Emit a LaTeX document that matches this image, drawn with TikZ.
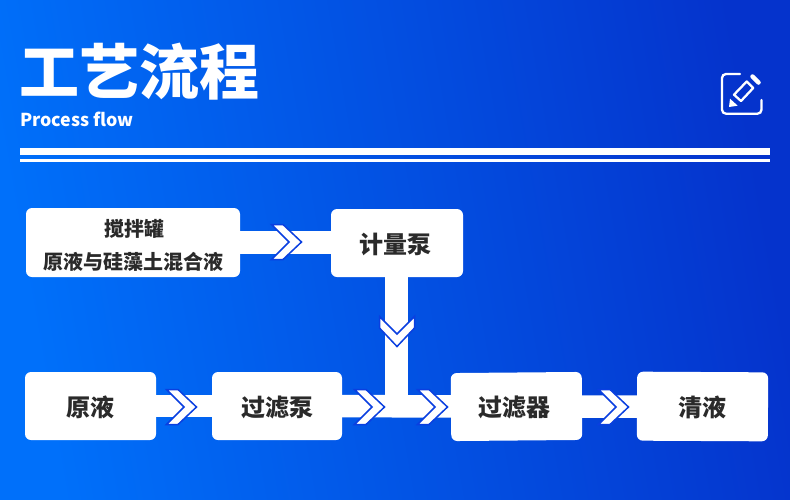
\documentclass[tikz,border=0pt]{standalone}
\usepackage{fontspec}
\setmainfont{Noto Sans CJK SC}
\usetikzlibrary{calc}
\definecolor{bgleft}{HTML}{0070FA}
\definecolor{bgright}{HTML}{0533CC}
\definecolor{chevblue}{HTML}{0A3FE0}
\definecolor{inktext}{HTML}{2A2A2A}
\tikzset{
  procbox/.style={fill=white,rounded corners=6pt,minimum width=131pt,minimum height=68pt,
    inner sep=0pt,text=inktext,text height=20.2pt,text depth=0pt,font=\fontsize{24pt}{28pt}\selectfont\bfseries},
  flowline/.style={draw=white,line width=22.5pt},
  chevron/.pic={
    \draw[fill=white,draw=chevblue,line width=1.5pt,line join=miter]
      (-31,-17.5) -- (-19.5,-17.5) -- (-1,0) -- (-19.5,17.5) -- (-31,17.5) -- (-13.5,0) -- cycle;
  }
}
\begin{document}
\begin{tikzpicture}[x=1pt,y=-1pt]
  \useasboundingbox (0,0) rectangle (790,499);
  % Background with gradient
  \shade[left color=bgleft,right color=bgright,shading angle=100] (0,0) rectangle (790,499);
  % Title
  \node[anchor=west,inner sep=0pt,text=white,font=\fontsize{60pt}{62pt}\selectfont\bfseries] (title) at (19,72) {工艺流程};
  \node[anchor=west,inner sep=0pt,text=white,font=\fontsize{17.8pt}{20pt}\selectfont\bfseries] (subtitle) at (20,119) {Process flow};
  % Double rule
  \fill[white] (20,148) rectangle (770,155);
  \fill[white] (20,159) rectangle (770,162);
  % Edit icon
  \draw[white,line width=2.3pt,line cap=round,rounded corners=4pt]
    (740,74) -- (722,74) -- (722,113.7) -- (761.5,113.7) -- (761.5,100);
  \draw[white,line width=2.3pt,line join=round]
    (734,94.7) -- (746.7,81.5) -- (753.2,88) -- (741,101) -- cycle;
  \fill[white] (729,107) -- (730,98.7) -- (737.7,105.7) -- cycle;
  \draw[white,line width=4.5pt,line cap=round] (752.5,76.5) -- (758.5,82.5);
  % Boxes
  \node[procbox,minimum width=214pt,minimum height=69pt,align=center,text height={},text depth={},font=\fontsize{20pt}{33pt}\selectfont\bfseries]
    (stir) at (133,242.5) {\rule{0pt}{23pt}\hspace*{2pt}搅拌罐\\原液与硅藻土混合液};
  \node[procbox,minimum width=132pt] (meter) at (397,243) {\hspace*{-3pt}计量泵};
  \node[procbox] (raw) at (90.5,406) {原液};
  \node[procbox,minimum width=130pt] (fpump) at (277,406) {过滤泵};
  \node[procbox,rotate=0.5] (filter) at (516.5,406.5) {\hspace*{-4pt}过滤器};
  \node[procbox,minimum height=69pt,rotate=-0.3] (clear) at (702.5,406.5) {清液};
  % Junction on the lower line
  \coordinate (joint) at ([xshift=-0.6pt]meter |- fpump);
  % Connectors
  \draw[flowline] (stir.east |- 0,242.5) -- (meter.west |- 0,242.5);
  \draw[flowline] ([xshift=-0.6pt]meter.south) -- (joint);
  \draw[flowline] (raw) -- (fpump);
  \draw[flowline] (fpump) -- (filter);
  \draw[flowline] (filter) -- (clear);
  % Chevrons
  \pic at (302.5,242) {chevron};
  \pic[rotate=-90] at (397,347.5) {chevron};
  \pic at (197.5,407) {chevron};
  \pic at (385.5,407) {chevron};
  \pic at (448.5,407) {chevron};
  \pic at (629.5,407) {chevron};
\end{tikzpicture}
\end{document}
